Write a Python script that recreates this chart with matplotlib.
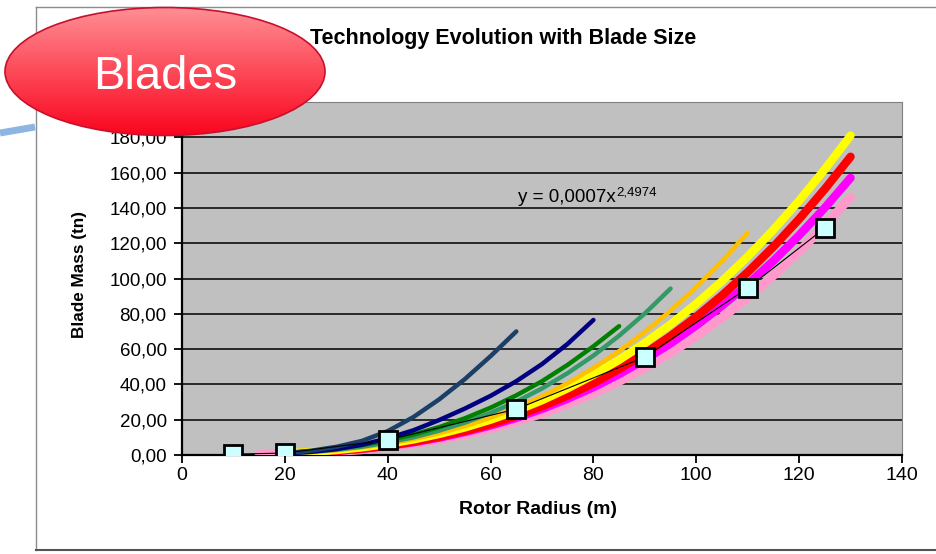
import matplotlib
matplotlib.use("Agg")
import matplotlib.pyplot as plt
import numpy as np
from matplotlib.patches import Ellipse

plt.rcParams['font.family'] = ['Liberation Sans', 'DejaVu Sans']

# ---------------- data ----------------
x_slate = [20, 25, 30, 35, 40, 45, 50, 55, 60, 65]
y_slate = [1.0, 2.4, 4.6, 8.0, 13.5, 21.5, 31.5, 43.0, 56.0, 70.0]

x_navy = [20, 25, 30, 35, 40, 45, 50, 55, 60, 65, 70, 75, 80]
y_navy = [0.8, 1.8, 3.3, 5.8, 9.5, 14.0, 19.8, 26.3, 33.5, 41.8, 51.5, 63.0, 76.5]

x_green = [20, 25, 30, 35, 40, 45, 50, 55, 60, 65, 70, 75, 80, 85]
y_green = [1.1, 2.1, 3.6, 5.6, 8.3, 11.6, 15.8, 20.8, 26.8, 33.8, 41.8, 51.1, 61.6, 73.0]

x_sea = [20, 25, 30, 35, 40, 45, 50, 55, 60, 65, 70, 75, 80, 85, 90, 95]
y_sea = [0.9, 1.7, 3.0, 4.7, 7.0, 10.0, 13.8, 18.3, 23.8, 30.2, 37.7, 46.4, 56.3, 67.6, 80.2, 94.3]

x_gold = [20, 25, 30, 35, 40, 45, 50, 55, 60, 65, 70, 75, 80, 85, 90, 95, 100, 105, 110]
y_gold = [0.8, 1.6, 2.7, 4.3, 6.4, 9.0, 12.3, 16.3, 21.1, 26.7, 33.2, 40.7, 49.3, 58.9,
          69.7, 81.8, 95.1, 109.8, 126.0]

x_big = [20, 25, 30, 35, 40, 45, 50, 55, 60, 65, 70, 75, 80, 85, 90, 95, 100, 105,
         110, 115, 120, 125, 130]
y_yellow = [0.9, 1.7, 2.8, 4.3, 6.3, 8.8, 11.9, 15.6, 20.0, 25.1, 31.0, 37.8, 45.4, 53.9,
            63.5, 74.0, 85.7, 98.5, 112.4, 127.6, 144.1, 161.9, 181.0]
y_red = [0.7, 1.35, 2.3, 3.6, 5.3, 7.5, 10.3, 13.6, 17.5, 22.2, 27.6, 33.7, 40.7, 48.7,
         57.5, 67.4, 78.3, 90.4, 103.6, 118.0, 133.7, 150.7, 169.0]
y_magenta = [0.7, 1.3, 2.2, 3.5, 5.1, 7.2, 9.8, 13.0, 16.7, 21.0, 26.1, 31.9, 38.4, 45.8,
             54.1, 63.2, 73.4, 84.5, 96.7, 110.0, 124.5, 140.1, 157.0]

x_pink = [15, 20, 25, 30, 35, 40, 45, 50, 55, 60, 65, 70, 75, 80, 85, 90, 95, 100, 105,
          110, 115, 120, 125, 130]
y_pink = [0.25, 0.6, 1.1, 1.9, 3.0, 4.5, 6.4, 8.7, 11.5, 14.9, 18.9, 23.5, 28.8, 34.9, 41.7,
          49.4, 57.9, 67.3, 77.8, 89.2, 101.7, 115.3, 130.1, 146.0]

x_markers = [10, 20, 40, 65, 90, 110, 125]
y_markers = [0.5, 1.1, 8.5, 26.0, 55.5, 94.6, 128.6]

x_ticks = [0, 20, 40, 60, 80, 100, 120, 140]
y_ticks = [0, 20, 40, 60, 80, 100, 120, 140, 160, 180, 200]
# the top label (200,00) is hidden behind the "Blades" badge in the reference
y_tick_labels = ["0,00", "20,00", "40,00", "60,00", "80,00", "100,00", "120,00",
                 "140,00", "160,00", "180,00", ""]

title_text = "Technology Evolution with Blade Size"
xlabel_text = "Rotor Radius (m)"
ylabel_text = "Blade Mass (tn)"
equation_main = "y = 0,0007x"
equation_exp = "2,4974"
badge_text = "Blades"

# ---------------- figure ----------------
W, H = 937, 554
fig = plt.figure(figsize=(W / 100, H / 100), dpi=100, facecolor='white')

# background layer (frame of chart object, blue stroke)
bg = fig.add_axes([0, 0, 1, 1], zorder=0)
bg.set_xlim(0, W)
bg.set_ylim(H, 0)
bg.axis('off')
bg.plot([36, 36], [7, 550], color='#8c8c8c', lw=1.0)
bg.plot([36, W], [7, 7], color='#8c8c8c', lw=1.0)
bg.plot([36, W], [550, 550], color='#555555', lw=1.5)
bg.plot([0, 35], [133, 127], color='#8EB4E3', lw=5, solid_capstyle='butt')

# main plot
ax = fig.add_axes([182 / W, 1 - 455 / H, 720 / W, 353 / H], zorder=2)
ax.set_facecolor('#C0C0C0')
ax.set_xlim(0, 140)
ax.set_ylim(0, 200)
ax.set_xticks(x_ticks)
ax.set_xticklabels([str(v) for v in x_ticks], fontsize=14)
ax.set_yticks(y_ticks)
ax.set_yticklabels(y_tick_labels, fontsize=13.5)
ax.tick_params(axis='both', direction='out', length=6, width=1.3, color='black')
ax.tick_params(axis='x', pad=3)
ax.tick_params(axis='y', pad=5)
for yv in y_ticks[1:-1]:
    ax.axhline(yv, color='black', lw=1.1, zorder=1)
ax.spines['left'].set_color('black')
ax.spines['left'].set_linewidth(1.6)
ax.spines['bottom'].set_color('black')
ax.spines['bottom'].set_linewidth(1.6)
ax.spines['top'].set_color('#808080')
ax.spines['right'].set_color('#808080')

kw = dict(solid_capstyle='round', solid_joinstyle='round')
ax.plot(x_pink, y_pink, color='#FF99CC', lw=6.5, zorder=3, **kw)
ax.plot(x_big, y_magenta, color='#FF00FF', lw=6.0, zorder=4, **kw)
ax.plot(x_big, y_red, color='#FF0000', lw=6.0, zorder=5, **kw)
ax.plot(x_big, y_yellow, color='#FFFF00', lw=6.0, zorder=6, **kw)
ax.plot(x_gold, y_gold, color='#FFC000', lw=3.2, zorder=7, **kw)
ax.plot(x_sea, y_sea, color='#339966', lw=3.2, zorder=7, **kw)
ax.plot(x_green, y_green, color='#008000', lw=3.2, zorder=8, **kw)
ax.plot(x_navy, y_navy, color='#000080', lw=3.2, zorder=8, **kw)
ax.plot(x_slate, y_slate, color='#1B3F66', lw=3.2, zorder=8, **kw)
ax.plot(x_markers, y_markers, color='black', lw=0.8, zorder=9)
ax.plot(x_markers, y_markers, linestyle='none', marker='s', markersize=13,
        markerfacecolor='#CCFFFF', markeredgecolor='black', markeredgewidth=2, zorder=10)

t1 = ax.text(65.4, 143.3, equation_main, fontsize=13.5, va='baseline', ha='left', zorder=11)
ax.annotate(equation_exp, xy=(1, 0), xycoords=t1, xytext=(0.5, 7.5),
            textcoords='offset points', fontsize=9.5, va='baseline', ha='left', zorder=11)

fig.text(503 / W, 1 - 38.5 / H, title_text, fontsize=15.5, fontweight='bold',
         ha='center', va='center')
fig.text(538 / W, 1 - 510 / H, xlabel_text, fontsize=14, fontweight='bold',
         ha='center', va='center')
fig.text(80 / W, 1 - 275 / H, ylabel_text, fontsize=12.3, fontweight='bold',
         ha='center', va='center', rotation=90)

# foreground badge
fg = fig.add_axes([0, 0, 1, 1], zorder=20)
fg.set_xlim(0, W)
fg.set_ylim(H, 0)
fg.axis('off')
fg.patch.set_alpha(0)
ell = Ellipse((165, 71.5), 320, 128, facecolor='none', edgecolor='#C8102E', lw=1.2, zorder=3)
fg.add_patch(ell)
top = np.array([1.0, 0.56, 0.58])
bot = np.array([0.98, 0.02, 0.12])
t = np.linspace(0, 1, 256)[:, None]
grad = (top[None, :] * (1 - t) + bot[None, :] * t)[:, None, :]
grad = np.repeat(grad, 2, axis=1)
im = fg.imshow(grad, extent=(5, 325, 135.5, 7.5), aspect='auto', zorder=2,
               interpolation='bilinear')
clip = Ellipse((165, 71.5), 320, 128, transform=fg.transData)
im.set_clip_path(clip)
fg.set_xlim(0, W)
fg.set_ylim(H, 0)
fg.text(165, 89, badge_text, fontsize=34, color='white', ha='center', va='baseline', zorder=4)

fig.savefig('out.png', dpi=100, facecolor='white')
